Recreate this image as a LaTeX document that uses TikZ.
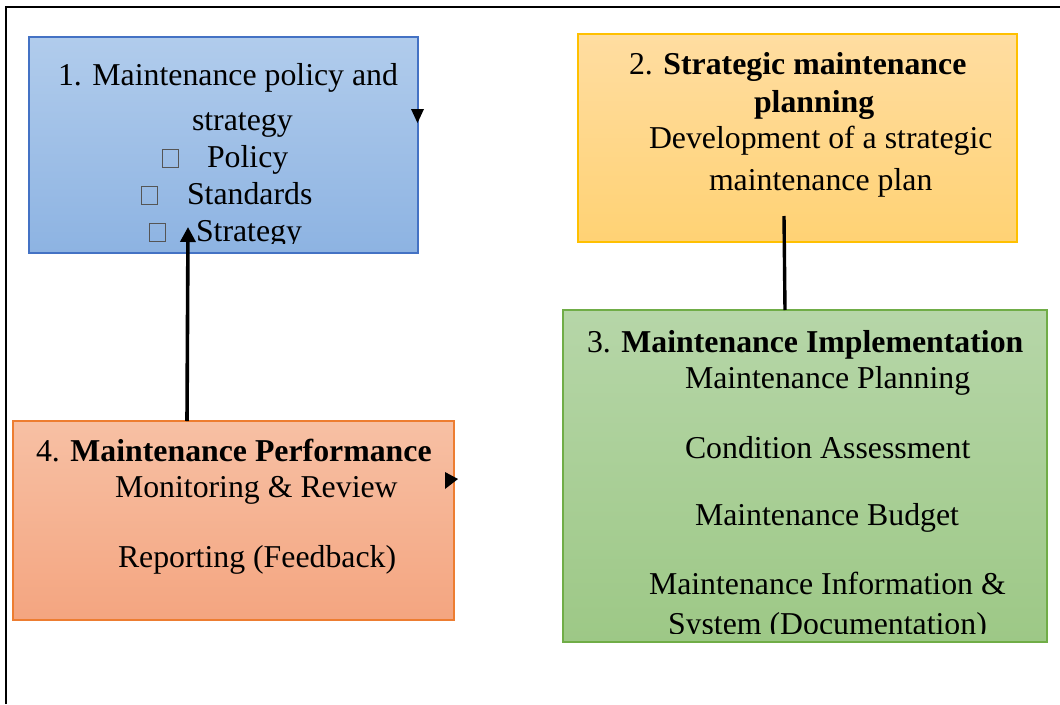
\documentclass[tikz,border=0pt]{standalone}
\usepackage{fontspec}
\setmainfont{Liberation Serif}
\usetikzlibrary{arrows.meta,shadings}

\definecolor{polTop}{HTML}{B1CCEC}
\definecolor{polBot}{HTML}{8DB3E2}
\definecolor{polEdge}{HTML}{4472C4}
\definecolor{strTop}{HTML}{FFDDA1}
\definecolor{strBot}{HTML}{FFD274}
\definecolor{strEdge}{HTML}{FFC000}
\definecolor{impTop}{HTML}{B6D6A8}
\definecolor{impBot}{HTML}{9DC886}
\definecolor{impEdge}{HTML}{70AD47}
\definecolor{perTop}{HTML}{F7C0A4}
\definecolor{perBot}{HTML}{F4A580}
\definecolor{perEdge}{HTML}{ED7D31}
\definecolor{tofugray}{HTML}{555555}

% empty glyph box standing in for a missing bullet symbol
\newcommand\tofu{\textcolor{tofugray}{\fboxsep=0pt\fboxrule=1pt\fbox{\rule{0pt}{17pt}\hspace{15pt}}}}

\begin{document}
\begin{tikzpicture}[x=1pt,y=-1pt,
  font=\fontsize{31.8}{36.6}\selectfont,
  stagebox/.style={draw, line width=1.4pt, inner sep=0pt, outer sep=0pt},
  line/.style={anchor=base west, inner sep=0pt, outer sep=0pt},
  link/.style={line width=3.4pt},
  flow/.style={line width=3.6pt, -{Triangle[length=15pt,width=15pt]}},
  tip/.style={fill=black}]

\useasboundingbox (0,0) rectangle (1060,704);

% page frame
\draw[line width=2pt] (6,704) -- (6,6.5) -- (1060,6.5);

% stage boxes
\node[stagebox, draw=polEdge, top color=polTop, bottom color=polBot,
      minimum width=389pt, minimum height=216pt] (pol) at (223.5,145) {};
\node[stagebox, draw=strEdge, top color=strTop, bottom color=strBot,
      minimum width=439pt, minimum height=208pt] (str) at (797.5,138) {};
\node[stagebox, draw=impEdge, top color=impTop, bottom color=impBot,
      minimum width=484pt, minimum height=332pt] (imp) at (805,476) {};
\node[stagebox, draw=perEdge, top color=perTop, bottom color=perBot,
      minimum width=441pt, minimum height=199pt] (per) at (233.5,520.5) {};

% 1. policy and strategy
\begin{scope}
  \clip (29,37) rectangle (418,243);
  \node[line] (pola) at (58,85) {1. Maintenance policy and};
  \node[line] (polb) at (192,130) {strategy};
  \node[line] (polc) at (162,167) {\tofu\hspace{28pt}Policy};
  \node[line] (pold) at (141,204) {\tofu\hspace{29pt}Standards};
  \node[line] (pole) at (149,241) {\tofu\hspace{30pt}Strategy};
\end{scope}

% 2. strategic planning
\node[line] (stra) at (629,74) {2. \textbf{Strategic maintenance}};
\node[line] (strb) at (754,112) {\textbf{planning}};
\node[line] (strc) at (649,148) {Development of a strategic};
\node[line] (strd) at (709,190) {maintenance plan};

% 3. implementation
\begin{scope}
  \clip (563,310) rectangle (1047,633.5);
  \node[line] (impa) at (587,352) {3. \textbf{Maintenance Implementation}};
  \node[line] (impb) at (685,388) {Maintenance Planning};
  \node[line] (impc) at (685,458) {Condition Assessment};
  \node[line] (impd) at (695,525) {Maintenance Budget};
  \node[line] (impe) at (649,594) {Maintenance Information \&};
  \node[line] (impf) at (668,634) {System (Documentation)};
\end{scope}

% 4. performance
\node[line] (pera) at (36,461) {4. \textbf{Maintenance Performance}};
\node[line] (perb) at (115,497) {Monitoring \& Review};
\node[line] (perc) at (118,567) {Reporting (Feedback)};

% connectors
\coordinate (strfoot) at (784,216);
\coordinate (polhead) at (188,227);
\draw[link] (strfoot) -- ([xshift=-20pt]imp.north);
\draw[flow] ([xshift=-46.5pt]per.north) -- (polhead);

% lone arrow tips on the box edges
\fill[tip] (411,109) -- (424,109) -- (417.5,123) -- cycle;
\fill[tip] (445,472) -- (445,489) -- (458,479) -- cycle;

\end{tikzpicture}
\end{document}
